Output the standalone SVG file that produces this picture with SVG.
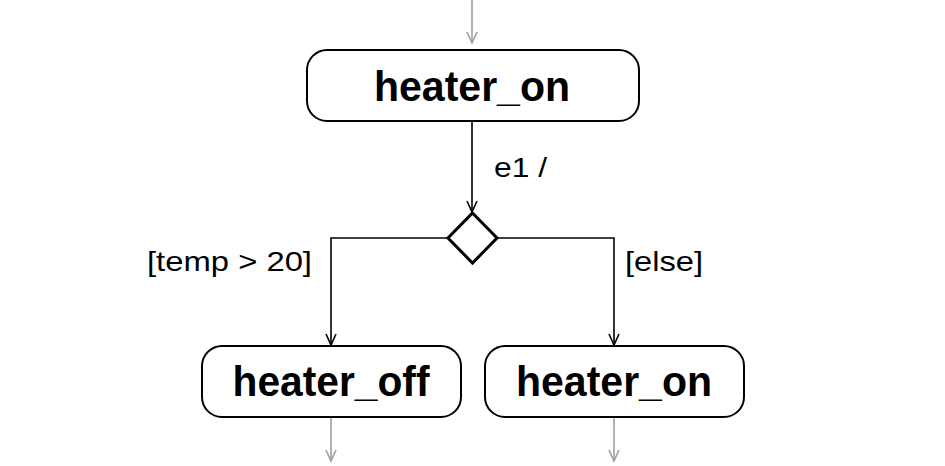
<svg xmlns="http://www.w3.org/2000/svg" width="945" height="466" viewBox="0 0 945 466">
<style>
.node{fill:#fff;stroke:#000;stroke-width:2}
.title{font-family:"Liberation Sans",Arial,sans-serif;font-weight:bold;font-size:43px;text-anchor:middle;fill:#000}
.lbl{font-family:"Liberation Sans",Arial,sans-serif;font-size:28px;fill:#000}
.edge{fill:none;stroke:#000;stroke-width:1.6}
.gray{fill:none;stroke:#a0a0a0;stroke-width:1.6}
</style>
<defs>
<marker id="ab" markerUnits="userSpaceOnUse" markerWidth="16" markerHeight="16" viewBox="-14 -8 16 16" refX="0" refY="0" orient="auto" overflow="visible">
<path d="M-11,-5 L0,0 L-11,5" fill="none" stroke="#000" stroke-width="1.6"/>
</marker>
<marker id="ag" markerUnits="userSpaceOnUse" markerWidth="16" markerHeight="16" viewBox="-14 -8 16 16" refX="0" refY="0" orient="auto" overflow="visible">
<path d="M-11,-5 L0,0 L-11,5" fill="none" stroke="#a0a0a0" stroke-width="1.6"/>
</marker>
</defs>
<g id="connectors">
<line class="gray" x1="472" y1="0" x2="472" y2="43" marker-end="url(#ag)"/>
<line class="edge" x1="472" y1="121" x2="472" y2="212" marker-end="url(#ab)"/>
<polyline class="edge" points="448,238 331,238 331,345" marker-end="url(#ab)"/>
<polyline class="edge" points="497,238 614,238 614,345" marker-end="url(#ab)"/>
<line class="gray" x1="331" y1="417" x2="331" y2="461" marker-end="url(#ag)"/>
<line class="gray" x1="614" y1="417" x2="614" y2="461" marker-end="url(#ag)"/>
<text class="lbl" x="494" y="177" textLength="53" lengthAdjust="spacingAndGlyphs">e1 /</text>
<text class="lbl" x="147" y="271" textLength="165" lengthAdjust="spacingAndGlyphs">[temp &gt; 20]</text>
<text class="lbl" x="625" y="271" textLength="78" lengthAdjust="spacingAndGlyphs">[else]</text>
</g>
<g id="heater_on_top">
<rect class="node" x="307" y="50" width="332" height="71" rx="20"/>
<text class="title" x="472" y="101" textLength="196" lengthAdjust="spacingAndGlyphs">heater_on</text>
</g>
<g id="choice">
<polygon points="472.5,213 497,238 472.5,263 448,238" fill="#fff" stroke="#000" stroke-width="3"/>
</g>
<g id="heater_off">
<rect class="node" x="202" y="346" width="259" height="71" rx="20"/>
<text class="title" x="331" y="396" textLength="197" lengthAdjust="spacingAndGlyphs">heater_off</text>
</g>
<g id="heater_on_bottom">
<rect class="node" x="485" y="346" width="259" height="71" rx="20"/>
<text class="title" x="614" y="396" textLength="196" lengthAdjust="spacingAndGlyphs">heater_on</text>
</g>
</svg>
